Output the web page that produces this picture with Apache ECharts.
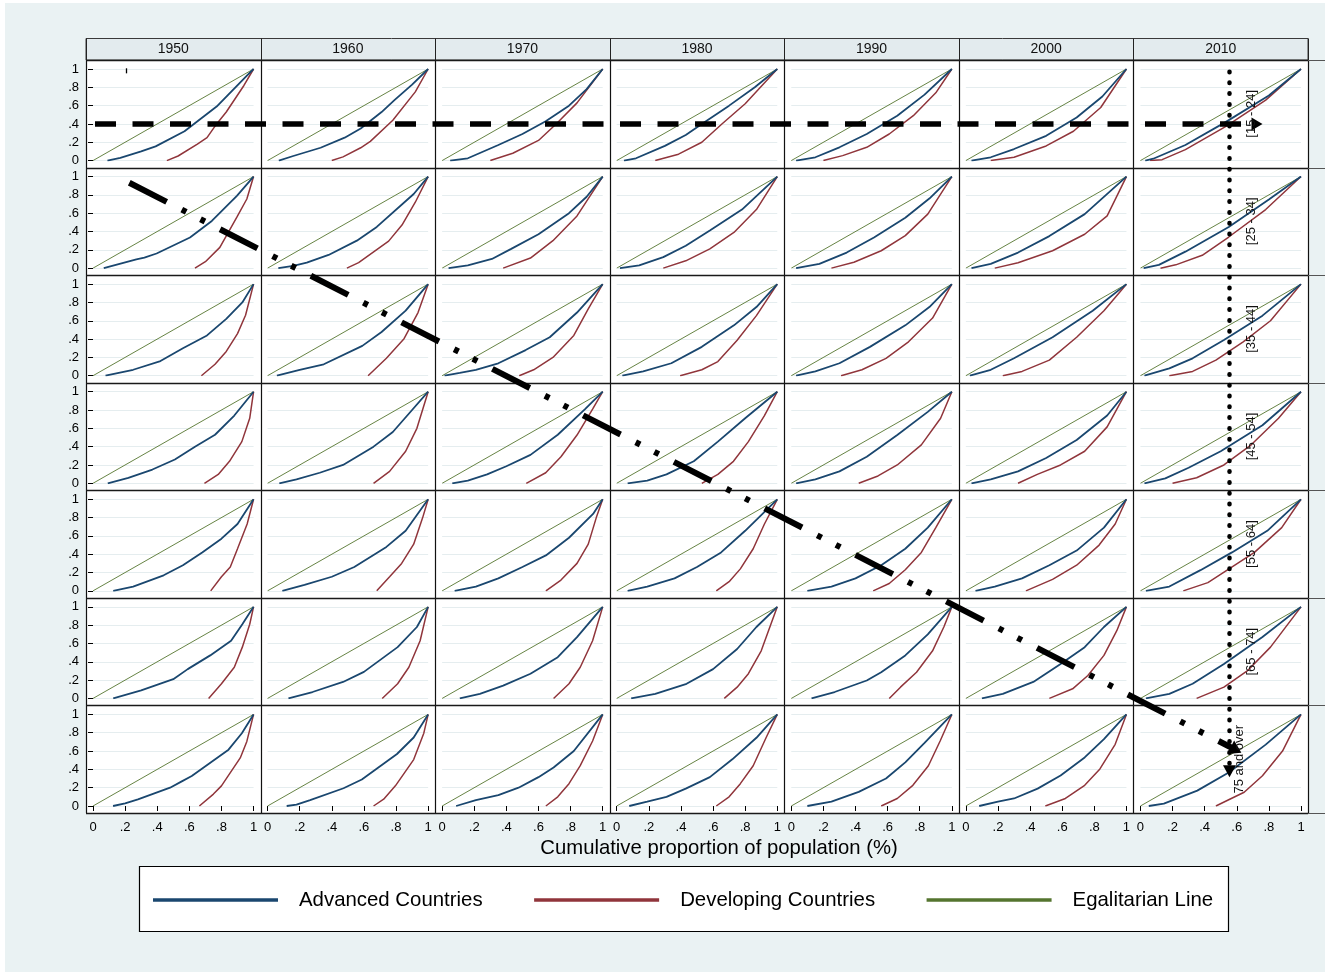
<!DOCTYPE html>
<html><head><meta charset="utf-8">
<script src="https://cdn.jsdelivr.net/npm/echarts@6/dist/echarts.min.js"></script>
<style>html,body{margin:0;padding:0;background:#fff}#c{width:1325px;height:972px}</style>
</head><body><div id="c"></div><script>
const years = ['1950','1960','1970','1980','1990','2000','2010'];
const ageGroups = ['[15 - 24]','[25 - 34]','[35 - 44]','[45 - 54]','[55 - 64]','[65 - 74]','75 and over'];
const xTickLabels = ['0','.2','.4','.6','.8','1'];
const yTickLabels = ['0','.2','.4','.6','.8','1'];
const axisTitle = 'Cumulative proportion of population (%)';
const seriesNames = ['Advanced Countries','Developing Countries','Egalitarian Line'];
const egalitarian = [[0,0],[1,1]];

// Lorenz curves, one list per age group, one curve per decade (1950..2010)
const adv_15_24 = [
 [[0.09,0],[0.17,0.03],[0.30,0.10],[0.39,0.155],[0.57,0.32],[0.77,0.59],[0.96,0.93],[1,1]],
 [[0.07,0],[0.16,0.05],[0.33,0.14],[0.48,0.25],[0.58,0.35],[0.71,0.53],[0.79,0.66],[0.9,0.83],[1,1]],
 [[0.05,0],[0.16,0.025],[0.35,0.17],[0.5,0.29],[0.645,0.43],[0.79,0.6],[0.9,0.78],[1,1]],
 [[0.045,0],[0.12,0.025],[0.3,0.16],[0.43,0.28],[0.53,0.4],[0.7,0.6],[0.86,0.8],[1,1]],
 [[0.03,0],[0.15,0.036],[0.3,0.145],[0.47,0.29],[0.66,0.49],[0.83,0.72],[1,1]],
 [[0.035,0],[0.155,0.036],[0.3,0.126],[0.5,0.27],[0.69,0.47],[0.85,0.7],[1,1]],
 [[0.03,0],[0.08,0.02],[0.28,0.17],[0.53,0.42],[0.80,0.71],[1,1]]
];
const dev_15_24 = [
 [[0.46,0],[0.53,0.05],[0.65,0.18],[0.71,0.25],[0.77,0.40],[0.83,0.53],[0.94,0.82],[1,1]],
 [[0.40,0],[0.47,0.04],[0.58,0.14],[0.64,0.21],[0.78,0.44],[0.92,0.75],[1,1]],
 [[0.30,0],[0.44,0.08],[0.6,0.22],[0.71,0.4],[0.84,0.63],[1,1]],
 [[0.24,0],[0.385,0.07],[0.53,0.2],[0.655,0.4],[0.8,0.62],[1,1]],
 [[0.2,0],[0.32,0.054],[0.47,0.145],[0.61,0.29],[0.76,0.49],[0.9,0.74],[1,1]],
 [[0.155,0],[0.3,0.036],[0.5,0.16],[0.67,0.32],[0.84,0.58],[1,1]],
 [[0.06,0],[0.135,0.01],[0.28,0.12],[0.53,0.37],[0.78,0.66],[1,1]]
];
const adv_25_34 = [
 [[0.067,0],[0.27,0.097],[0.32,0.115],[0.396,0.16],[0.604,0.335],[0.74,0.515],[0.896,0.79],[1,1]],
 [[0.067,0],[0.16,0.025],[0.244,0.06],[0.38,0.144],[0.556,0.3],[0.68,0.45],[0.91,0.81],[1,1]],
 [[0.04,0],[0.16,0.03],[0.31,0.1],[0.43,0.21],[0.6,0.37],[0.79,0.6],[0.9,0.78],[1,1]],
 [[0.02,0],[0.14,0.03],[0.29,0.12],[0.43,0.245],[0.58,0.41],[0.78,0.64],[1,1]],
 [[0.03,0],[0.175,0.047],[0.345,0.17],[0.515,0.335],[0.71,0.55],[0.86,0.76],[1,1]],
 [[0.035,0],[0.155,0.047],[0.325,0.17],[0.52,0.35],[0.74,0.59],[1,1]],
 [[0.02,0],[0.115,0.036],[0.28,0.18],[0.55,0.45],[0.8,0.75],[1,1]]
];
const dev_25_34 = [
 [[0.635,0],[0.7,0.07],[0.79,0.227],[0.896,0.557],[0.958,0.755],[1,1]],
 [[0.494,0],[0.567,0.06],[0.754,0.295],[0.837,0.47],[0.92,0.72],[1,1]],
 [[0.38,0],[0.55,0.11],[0.69,0.3],[0.84,0.57],[1,1]],
 [[0.29,0],[0.43,0.08],[0.58,0.21],[0.73,0.39],[0.87,0.64],[1,1]],
 [[0.25,0],[0.39,0.065],[0.56,0.19],[0.71,0.355],[0.85,0.59],[1,1]],
 [[0.18,0],[0.325,0.058],[0.54,0.19],[0.74,0.37],[0.88,0.57],[1,1]],
 [[0.125,0],[0.22,0.036],[0.385,0.14],[0.55,0.34],[0.78,0.64],[1,1]]
];
const adv_35_44 = [
 [[0.078,0],[0.25,0.065],[0.42,0.16],[0.56,0.3],[0.71,0.44],[0.83,0.62],[0.93,0.8],[1,1]],
 [[0.058,0],[0.2,0.065],[0.35,0.125],[0.59,0.326],[0.71,0.477],[0.86,0.71],[1,1]],
 [[0.015,0],[0.11,0.03],[0.21,0.065],[0.35,0.136],[0.52,0.28],[0.67,0.42],[0.84,0.69],[1,1]],
 [[0.035,0],[0.165,0.047],[0.34,0.136],[0.53,0.315],[0.73,0.55],[0.87,0.75],[1,1]],
 [[0.03,0],[0.15,0.047],[0.3,0.136],[0.49,0.315],[0.71,0.55],[0.86,0.75],[1,1]],
 [[0.025,0],[0.155,0.065],[0.3,0.19],[0.54,0.42],[0.79,0.71],[1,1]],
 [[0.025,0],[0.18,0.08],[0.325,0.19],[0.52,0.39],[0.76,0.656],[1,1]]
];
const dev_35_44 = [
 [[0.675,0],[0.76,0.125],[0.83,0.265],[0.9,0.46],[0.95,0.66],[1,1]],
 [[0.626,0],[0.74,0.19],[0.85,0.405],[0.937,0.69],[1,1]],
 [[0.48,0],[0.57,0.065],[0.69,0.2],[0.82,0.44],[0.91,0.73],[1,1]],
 [[0.395,0],[0.53,0.065],[0.63,0.154],[0.75,0.387],[0.87,0.656],[1,1]],
 [[0.31,0],[0.44,0.065],[0.59,0.19],[0.73,0.37],[0.88,0.63],[1,1]],
 [[0.23,0],[0.35,0.047],[0.52,0.17],[0.69,0.42],[0.86,0.71],[1,1]],
 [[0.18,0],[0.325,0.047],[0.47,0.17],[0.64,0.37],[0.81,0.6],[1,1]]
];
const adv_45_54 = [
 [[0.092,0],[0.22,0.06],[0.37,0.15],[0.51,0.26],[0.635,0.4],[0.76,0.53],[0.88,0.74],[1,1]],
 [[0.073,0],[0.18,0.043],[0.325,0.115],[0.47,0.2],[0.66,0.4],[0.78,0.56],[0.9,0.8],[1,1]],
 [[0.063,0],[0.16,0.03],[0.28,0.097],[0.4,0.186],[0.55,0.31],[0.72,0.53],[0.89,0.81],[1,1]],
 [[0.068,0],[0.19,0.03],[0.31,0.097],[0.48,0.24],[0.63,0.455],[0.8,0.71],[1,1]],
 [[0.03,0],[0.15,0.043],[0.3,0.13],[0.47,0.29],[0.66,0.527],[0.85,0.78],[1,1]],
 [[0.035,0],[0.155,0.043],[0.325,0.13],[0.5,0.276],[0.69,0.473],[0.88,0.74],[1,1]],
 [[0.025,0],[0.155,0.054],[0.3,0.17],[0.5,0.35],[0.76,0.634],[1,1]]
];
const dev_45_54 = [
 [[0.694,0],[0.78,0.097],[0.85,0.24],[0.927,0.455],[0.976,0.71],[1,1]],
 [[0.66,0],[0.76,0.13],[0.86,0.35],[0.93,0.6],[1,1]],
 [[0.524,0],[0.645,0.115],[0.74,0.29],[0.84,0.527],[0.937,0.81],[1,1]],
 [[0.53,0],[0.63,0.097],[0.727,0.24],[0.82,0.455],[0.92,0.74],[1,1]],
 [[0.42,0],[0.54,0.08],[0.66,0.2],[0.81,0.42],[0.93,0.71],[1,1]],
 [[0.325,0],[0.445,0.097],[0.59,0.2],[0.74,0.35],[0.88,0.616],[1,1]],
 [[0.2,0],[0.35,0.06],[0.52,0.2],[0.69,0.42],[0.86,0.71],[1,1]]
];
const adv_55_64 = [
 [[0.126,0],[0.25,0.047],[0.44,0.17],[0.56,0.28],[0.68,0.42],[0.8,0.57],[0.9,0.73],[1,1]],
 [[0.092,0],[0.23,0.065],[0.4,0.154],[0.54,0.26],[0.74,0.48],[0.86,0.656],[1,1]],
 [[0.078,0],[0.21,0.047],[0.35,0.136],[0.5,0.26],[0.646,0.387],[0.79,0.58],[0.94,0.84],[1,1]],
 [[0.068,0],[0.19,0.047],[0.36,0.136],[0.5,0.26],[0.65,0.42],[0.8,0.656],[1,1]],
 [[0.1,0],[0.25,0.047],[0.4,0.136],[0.56,0.28],[0.71,0.46],[0.85,0.69],[1,1]],
 [[0.06,0],[0.18,0.047],[0.35,0.136],[0.52,0.28],[0.69,0.44],[0.86,0.69],[1,1]],
 [[0.034,0],[0.18,0.047],[0.374,0.226],[0.57,0.42],[0.79,0.656],[1,1]]
];
const dev_55_64 = [
 [[0.733,0],[0.8,0.154],[0.855,0.26],[0.9,0.46],[0.96,0.73],[1,1]],
 [[0.68,0],[0.76,0.154],[0.835,0.3],[0.91,0.51],[0.966,0.8],[1,1]],
 [[0.646,0],[0.74,0.118],[0.84,0.3],[0.91,0.51],[0.96,0.8],[1,1]],
 [[0.62,0],[0.7,0.1],[0.77,0.24],[0.85,0.46],[0.92,0.73],[1,1]],
 [[0.51,0],[0.61,0.08],[0.71,0.23],[0.81,0.42],[0.9,0.69],[1,1]],
 [[0.374,0],[0.54,0.125],[0.69,0.28],[0.83,0.5],[0.93,0.73],[1,1]],
 [[0.267,0],[0.42,0.09],[0.54,0.226],[0.71,0.42],[0.88,0.69],[1,1]]
];
const adv_65_74 = [
 [[0.126,0],[0.3,0.087],[0.5,0.21],[0.59,0.32],[0.73,0.47],[0.86,0.63],[0.93,0.81],[1,1]],
 [[0.13,0],[0.28,0.07],[0.47,0.18],[0.6,0.29],[0.81,0.56],[0.93,0.78],[1,1]],
 [[0.11,0],[0.235,0.05],[0.38,0.14],[0.55,0.27],[0.72,0.45],[0.84,0.67],[1,1]],
 [[0.09,0],[0.24,0.05],[0.435,0.16],[0.6,0.32],[0.75,0.54],[0.87,0.78],[1,1]],
 [[0.126,0],[0.27,0.07],[0.47,0.196],[0.56,0.286],[0.71,0.47],[0.85,0.7],[1,1]],
 [[0.1,0],[0.23,0.05],[0.42,0.18],[0.59,0.377],[0.74,0.56],[0.86,0.78],[1,1]],
 [[0.034,0],[0.18,0.05],[0.325,0.16],[0.52,0.377],[0.76,0.67],[1,1]]
];
const dev_65_74 = [
 [[0.72,0],[0.8,0.16],[0.88,0.34],[0.93,0.56],[0.976,0.81],[1,1]],
 [[0.714,0],[0.81,0.16],[0.88,0.34],[0.95,0.63],[1,1]],
 [[0.694,0],[0.79,0.16],[0.86,0.34],[0.937,0.63],[1,1]],
 [[0.67,0],[0.75,0.123],[0.82,0.27],[0.9,0.52],[0.96,0.81],[1,1]],
 [[0.61,0],[0.68,0.123],[0.78,0.286],[0.88,0.52],[0.95,0.78],[1,1]],
 [[0.52,0],[0.665,0.105],[0.76,0.25],[0.86,0.47],[0.94,0.74],[1,1]],
 [[0.35,0],[0.52,0.123],[0.665,0.3],[0.81,0.56],[1,1]]
];
const adv_75_over = [
 [[0.125,0],[0.2,0.029],[0.28,0.072],[0.48,0.2],[0.55,0.266],[0.615,0.327],[0.844,0.615],[0.927,0.795],[1,1]],
 [[0.119,0],[0.18,0.014],[0.265,0.065],[0.473,0.194],[0.587,0.29],[0.806,0.568],[0.91,0.748],[1,1]],
 [[0.087,0],[0.21,0.065],[0.35,0.118],[0.476,0.2],[0.6,0.315],[0.694,0.42],[0.82,0.6],[1,1]],
 [[0.078,0],[0.19,0.047],[0.31,0.1],[0.43,0.19],[0.58,0.315],[0.72,0.51],[0.87,0.745],[1,1]],
 [[0.1,0],[0.25,0.047],[0.42,0.154],[0.59,0.3],[0.71,0.477],[0.83,0.69],[1,1]],
 [[0.083,0],[0.2,0.047],[0.3,0.082],[0.447,0.19],[0.59,0.333],[0.74,0.53],[0.86,0.73],[1,1]],
 [[0.052,0],[0.146,0.025],[0.354,0.168],[0.55,0.366],[0.78,0.67],[1,1]]
];
const dev_75_over = [
 [[0.6625,0],[0.75,0.13],[0.8,0.22],[0.917,0.525],[0.958,0.705],[1,1]],
 [[0.66,0],[0.723,0.075],[0.796,0.22],[0.91,0.507],[0.973,0.795],[1,1]],
 [[0.646,0],[0.72,0.1],[0.79,0.244],[0.86,0.44],[0.937,0.71],[1,1]],
 [[0.62,0],[0.7,0.1],[0.77,0.244],[0.85,0.44],[0.93,0.745],[1,1]],
 [[0.56,0],[0.66,0.082],[0.757,0.226],[0.854,0.44],[0.927,0.71],[1,1]],
 [[0.495,0],[0.62,0.082],[0.74,0.226],[0.835,0.405],[0.93,0.674],[1,1]],
 [[0.47,0],[0.5625,0.079],[0.646,0.15],[0.76,0.33],[0.885,0.6],[1,1]]
];
const advanced = [adv_15_24, adv_25_34, adv_35_44, adv_45_54, adv_55_64, adv_65_74, adv_75_over];
const developing = [dev_15_24, dev_25_34, dev_35_44, dev_45_54, dev_55_64, dev_65_74, dev_75_over];

// annotation arrows, in panel units (x: column 0..7, y: row 0..7 from top)
const annoDashed = [[0.0516,0.595],[6.708,0.595]];
const annoDashDot = [[0.248,1.141],[6.588,6.414]];
const annoDotted = [[6.5503,0.109],[6.5503,6.612]];
const annoTick = [[0.232,0.077],[0.232,0.124]];

const FONT = "'Liberation Sans', Arial, sans-serif";
const BLUE = '#1a476f', RED = '#90353b', GREEN = '#55752f';
const L = 86, T = 60, W = 1222, H = 753;
const COLW = W / 7, ROWH = H / 7;
const rowLabelX = [1251, 1251, 1251, 1251, 1251, 1251, 1239];

const grids = [], xAxes = [], yAxes = [], series = [];
const fmtX = v => xTickLabels[Math.round(v / 0.2)];
const fmtY = v => yTickLabels[Math.round(v / 0.2)];

for (let r = 0; r < 7; r++) {
  for (let c = 0; c < 7; c++) {
    const i = r * 7 + c;
    grids.push({left: L + c * COLW + 7, top: T + r * ROWH + 9, width: COLW - 14, height: ROWH - 16});
    xAxes.push({gridIndex: i, type: 'value', min: 0, max: 1, interval: 0.2, offset: 7,
      axisLine: {show: false}, splitLine: {show: false},
      axisTick: {show: r === 6, length: 5, lineStyle: {color: '#000', width: 1}},
      axisLabel: {show: r === 6, margin: 8, formatter: fmtX, showMinLabel: true, showMaxLabel: true,
        color: '#000', fontSize: 13, fontFamily: FONT}});
    yAxes.push({gridIndex: i, type: 'value', min: 0, max: 1, interval: 0.2, offset: 7,
      axisLine: {show: false},
      splitLine: {show: true, lineStyle: {color: '#e5edef', width: 1}},
      axisTick: {show: c === 0, length: 5, lineStyle: {color: '#000', width: 1}},
      axisLabel: {show: c === 0, margin: 7, formatter: fmtY, showMinLabel: true, showMaxLabel: true,
        color: '#000', fontSize: 13, fontFamily: FONT}});
    series.push({name: seriesNames[2], type: 'line', xAxisIndex: i, yAxisIndex: i, data: egalitarian,
      showSymbol: false, color: GREEN, lineStyle: {color: GREEN, width: 0.9}, silent: true, z: 2});
    series.push({name: seriesNames[1], type: 'line', xAxisIndex: i, yAxisIndex: i, data: developing[r][c],
      showSymbol: false, color: RED, lineStyle: {color: RED, width: 1.5}, silent: true, z: 3});
    series.push({name: seriesNames[0], type: 'line', xAxisIndex: i, yAxisIndex: i, data: advanced[r][c],
      showSymbol: false, color: BLUE, lineStyle: {color: BLUE, width: 1.8}, silent: true, z: 4});
  }
}
// overlay coordinate system for the annotation arrows
grids.push({left: L, top: T, width: W, height: H});
xAxes.push({gridIndex: 49, type: 'value', min: 0, max: 7, show: false});
yAxes.push({gridIndex: 49, type: 'value', min: 0, max: 7, inverse: true, show: false});
function anno(coords, style, sym, symSize) {
  return {type: 'line', xAxisIndex: 49, yAxisIndex: 49, data: [], silent: true, z: 20,
    markLine: {silent: true, symbol: sym, symbolSize: symSize, label: {show: false},
      emphasis: {disabled: true}, animation: false,
      lineStyle: Object.assign({color: '#000', opacity: 1}, style),
      itemStyle: {color: '#000'},
      data: [[{coord: coords[0]}, {coord: coords[1]}]]}};
}
series.push(anno(annoDashed, {width: 5.5, type: [21, 16.5], cap: 'butt'}, ['none', 'triangle'], [13, 11]));
series.push(anno(annoDashDot, {width: 6, type: [42, 17, 5, 16, 5, 17], cap: 'butt'}, ['none', 'triangle'], [15, 12]));
series.push(anno(annoDotted, {width: 4.5, type: [0.5, 10.3], cap: 'round'}, ['none', 'triangle'], [13, 12]));
series.push(anno(annoTick, {width: 1.3, type: 'solid'}, ['none', 'none'], 0));

const graphic = [];
graphic.push({type: 'rect', shape: {x: 5, y: 3, width: 1320, height: 969}, style: {fill: '#eaf2f3'}, z: -20, silent: true});
graphic.push({type: 'rect', shape: {x: L, y: T, width: W, height: H}, style: {fill: '#fff'}, z: -10, silent: true});
graphic.push({type: 'rect', shape: {x: L, y: 38.5, width: W, height: T - 38.5}, style: {fill: '#e3ebee', stroke: '#3a3a3a', lineWidth: 1}, z: -10, silent: true});
for (let c = 0; c < 7; c++) {
  graphic.push({type: 'text', x: L + (c + 0.5) * COLW, y: 49.5, silent: true, z: 5,
    style: {text: years[c], font: '14px ' + FONT, fill: '#111', align: 'center', verticalAlign: 'middle'}});
}
for (let c = 0; c <= 7; c++) {
  const x = Math.round(L + c * COLW) + 0.5;
  graphic.push({type: 'line', shape: {x1: x, y1: 38.5, x2: x, y2: T}, style: {stroke: '#222', lineWidth: 1}, z: 5, silent: true});
  graphic.push({type: 'line', shape: {x1: x, y1: T, x2: x, y2: T + H}, style: {stroke: '#111', lineWidth: 1.2}, z: 5, silent: true});
}
for (let r = 0; r <= 7; r++) {
  const y = Math.round(T + r * ROWH) + 0.5;
  graphic.push({type: 'line', shape: {x1: L, y1: y, x2: L + W, y2: y}, style: {stroke: '#1a1a1a', lineWidth: 1.4}, z: 5, silent: true});
  graphic.push({type: 'line', shape: {x1: L + W, y1: y, x2: 1325, y2: y}, style: {stroke: '#555', lineWidth: 1}, z: 5, silent: true});
}
for (let r = 0; r < 7; r++) {
  graphic.push({type: 'text', x: rowLabelX[r], y: T + (r + 0.5) * ROWH, rotation: Math.PI / 2, silent: true, z: 6,
    style: {text: ageGroups[r], font: '13px ' + FONT, fill: '#111', align: 'center', verticalAlign: 'middle'}});
}
graphic.push({type: 'text', x: 719, y: 848, silent: true, z: 5,
  style: {text: axisTitle, font: '20.3px ' + FONT, fill: '#000', align: 'center', verticalAlign: 'middle'}});
graphic.push({type: 'rect', shape: {x: 139.5, y: 866.5, width: 1089, height: 65}, style: {fill: '#fff', stroke: '#000', lineWidth: 1.2}, z: -5, silent: true});

const chart = echarts.init(document.getElementById('c'), null, {renderer: 'canvas'});
chart.setOption({
  backgroundColor: '#fff',
  animation: false,
  grid: grids, xAxis: xAxes, yAxis: yAxes, series: series,
  graphic: graphic,
  legend: {left: 153, top: 890, itemWidth: 125, itemHeight: 3.5, itemGap: 51.5, icon: 'rect',
    selectedMode: false, padding: 0, data: seriesNames,
    textStyle: {fontSize: 20.4, color: '#000', fontFamily: FONT, padding: [0, 0, 0, 16]}}
});
</script></body></html>
